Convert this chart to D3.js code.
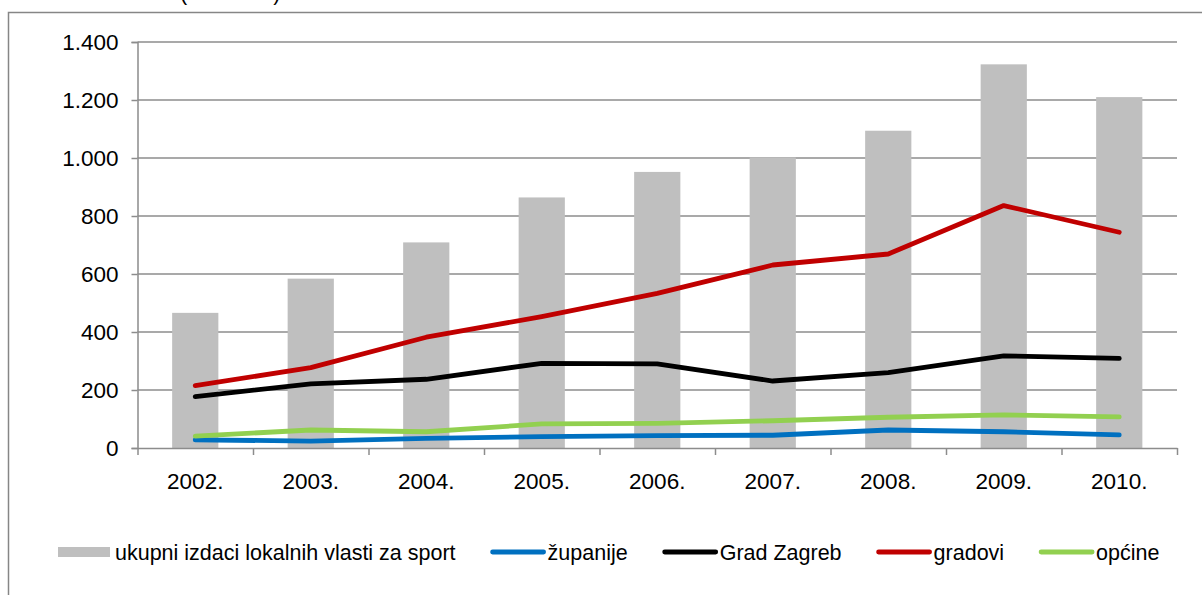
<!DOCTYPE html>
<html>
<head>
<meta charset="utf-8">
<script src="https://cdn.jsdelivr.net/npm/d3@7"></script>
<style>
  html, body { margin: 0; padding: 0; background: #ffffff; overflow: hidden; }
  svg { display: block; font-family: "Liberation Sans", Arial, sans-serif; }
</style>
</head>
<body>
<svg id="chart" width="1202" height="595"></svg>
<script>
// ---- data ----
const years = ["2002.", "2003.", "2004.", "2005.", "2006.", "2007.", "2008.", "2009.", "2010."];
const ukupno = [466, 584, 709, 864, 952, 1002, 1094, 1323, 1210];
const zupanije = [28, 24, 33, 39, 43, 44, 62, 56, 45];
const gradZagreb = [177, 221, 237, 292, 290, 231, 260, 318, 309];
const gradovi = [215, 277, 382, 453, 533, 631, 669, 836, 744];
const opcine = [41, 62, 56, 83, 85, 94, 106, 114, 107];
const yTicks = [0, 200, 400, 600, 800, 1000, 1200, 1400];
const barLabel = "ukupni izdaci lokalnih vlasti za sport";
const lineNames = ["županije", "Grad Zagreb", "gradovi", "općine"];
const titleText = "(mil. kuna)";

// ---- layout ----
const plotLeft = 137.5, plotRight = 1177, plotTop = 42, plotBottom = 448;
const axisFont = 22.5, legendFont = 21.5;
const svg = d3.select("#chart");

const series = [
  { name: lineNames[0], values: zupanije, color: "#0070C0" },
  { name: lineNames[1], values: gradZagreb, color: "#000000" },
  { name: lineNames[2], values: gradovi, color: "#C00000" },
  { name: lineNames[3], values: opcine, color: "#92D050" }
];

const x = d3.scaleBand().domain(years).range([plotLeft, plotRight]).paddingInner(0.6).paddingOuter(0.3);
const xEdge = d3.scaleLinear().domain([0, years.length]).range([plotLeft, plotRight]);
const y = d3.scaleLinear().domain([0, 1400]).range([plotBottom, plotTop]);
const loc = d3.formatLocale({ decimal: ",", thousands: ".", grouping: [3], currency: ["", ""] });
const fmt = loc.format(",d");

// outer chart border (extends past the viewport on right/bottom)
svg.append("rect").attr("x", 8.5).attr("y", 12.5).attr("width", 1220).attr("height", 600)
  .attr("fill", "none").attr("stroke", "#868686").attr("stroke-width", 1.5);

// partially visible title above border (cut off in the reference too)
svg.append("text").attr("x", 180).attr("y", 0).attr("font-size", legendFont).attr("fill", "#000")
  .text(titleText);

// gridlines
svg.append("g").selectAll("line").data(yTicks.filter(d => d > 0)).join("line")
  .attr("x1", plotLeft).attr("x2", plotRight)
  .attr("y1", d => y(d)).attr("y2", d => y(d))
  .attr("stroke", "#8c8c8c").attr("stroke-width", 1.5);

// bars
svg.append("g").selectAll("rect").data(years).join("rect")
  .attr("x", d => x(d)).attr("width", x.bandwidth())
  .attr("y", (d, i) => y(ukupno[i])).attr("height", (d, i) => y(0) - y(ukupno[i]))
  .attr("fill", "#BFBFBF");

// y axis
const yAxis = svg.append("g").attr("transform", `translate(${plotLeft},0)`)
  .call(d3.axisLeft(y).tickValues(yTicks).tickFormat(fmt).tickSize(6).tickPadding(13));
yAxis.select(".domain").attr("stroke", "#8c8c8c").attr("stroke-width", 1.5);
yAxis.selectAll(".tick line").attr("stroke", "#8c8c8c").attr("stroke-width", 1.5);
yAxis.selectAll(".tick text").attr("font-size", axisFont).attr("fill", "#000")
  .attr("font-family", "Liberation Sans, Arial, sans-serif");

// x axis (ticks between categories)
const xAxis = svg.append("g").attr("transform", `translate(0,${plotBottom})`)
  .call(d3.axisBottom(xEdge).tickValues(d3.range(0, years.length + 1)).tickFormat("").tickSize(7).tickSizeOuter(0));
xAxis.select(".domain").attr("stroke", "#8c8c8c").attr("stroke-width", 1.5);
xAxis.selectAll(".tick line").attr("stroke", "#8c8c8c").attr("stroke-width", 1.5);

svg.append("g").selectAll("text").data(years).join("text")
  .attr("x", d => x(d) + x.bandwidth() / 2).attr("y", 489)
  .attr("text-anchor", "middle").attr("font-size", axisFont).attr("fill", "#000")
  .text(d => d);

// lines
const line = d3.line()
  .x((d, i) => x(years[i]) + x.bandwidth() / 2)
  .y(d => y(d));
svg.append("g").selectAll("path").data(series).join("path")
  .attr("d", s => line(s.values))
  .attr("fill", "none").attr("stroke", s => s.color).attr("stroke-width", 4.8)
  .attr("stroke-linejoin", "round").attr("stroke-linecap", "round");

// legend
const legY = 552;
const lg = svg.append("g");
let lx = 58;
lg.append("rect").attr("x", lx).attr("y", legY - 5).attr("width", 52).attr("height", 10).attr("fill", "#BFBFBF");
let t = lg.append("text").attr("x", lx + 57).attr("y", legY + 7.5).attr("font-size", legendFont).attr("fill", "#000").text(barLabel);
lx = lx + 57 + t.node().getComputedTextLength() + 35;
series.forEach(s => {
  lg.append("line").attr("x1", lx + 2).attr("x2", lx + 53).attr("y1", legY).attr("y2", legY)
    .attr("stroke", s.color).attr("stroke-width", 4.8).attr("stroke-linecap", "round");
  const tt = lg.append("text").attr("x", lx + 57).attr("y", legY + 7.5).attr("font-size", legendFont).attr("fill", "#000").text(s.name);
  lx = lx + 57 + tt.node().getComputedTextLength() + 35;
});
</script>
</body>
</html>
